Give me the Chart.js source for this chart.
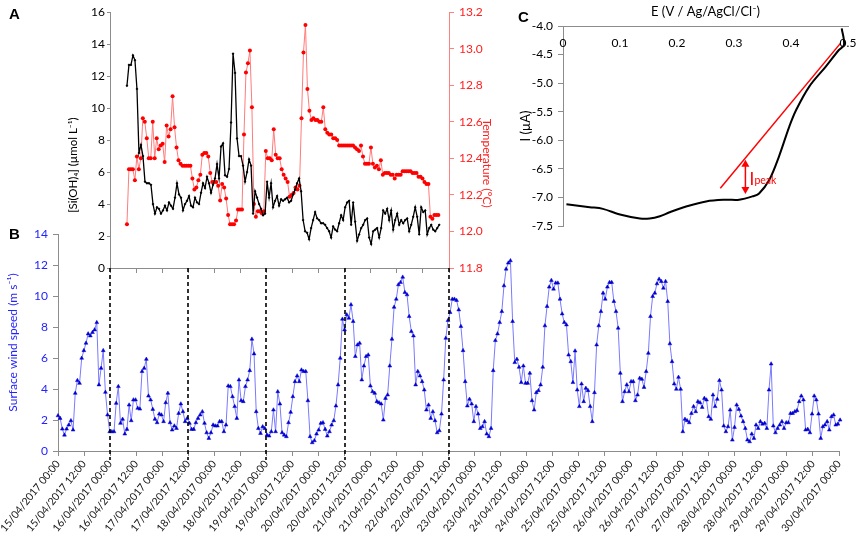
<!DOCTYPE html>
<html>
<head>
<meta charset="utf-8">
<script src="https://cdn.jsdelivr.net/npm/chart.js@4.4.0/dist/chart.umd.min.js"></script>
<style>
  body { margin: 0; background: #fff; }
  #wrap { position: relative; width: 856px; height: 543px; overflow: hidden; }
  canvas { position: absolute; }
  .tag { position: absolute; font: bold 15px "Liberation Sans", Arial, sans-serif; color: #000; }
</style>
</head>
<body>
<div id="wrap">
  <canvas id="windChart" width="856" height="543" style="left:0;top:0"></canvas>
  <canvas id="siChart" width="520" height="543" style="left:0;top:0"></canvas>
  <canvas id="cvChart" width="346" height="240" style="left:510px;top:0"></canvas>
  <div class="tag" style="left:9px;top:5px">A</div>
  <div class="tag" style="left:9px;top:225px">B</div>
  <div class="tag" style="left:518px;top:8px">C</div>
</div>
<script>
// ---- panel B: surface wind speed, hourly from 15/04/2017 00:00 ----
const windValues = [
  2.28,2.11,1.42,1.03,1.42,1.68,1.96,1.36,3.73,4.55,
  4.37,5.99,6.48,6.96,7.56,7.43,7.65,7.82,8.29,4.27,
  5.34,6.48,3.79,2.33,1.25,1.25,1.25,3.08,4.16,1.79,
  2.05,1.10,1.40,2.97,1.96,3.30,3.30,2.76,2.71,5.13,
  5.34,5.92,3.55,3.30,2.69,2.05,1.83,2.39,2.33,1.90,
  3.12,3.73,1.83,1.36,1.62,1.46,2.43,3.04,2.54,1.90,
  2.11,1.79,1.40,1.40,1.83,2.11,2.33,2.54,1.79,1.18,
  0.82,1.18,1.68,1.62,1.62,1.90,1.90,1.25,1.68,4.20,
  4.16,3.51,2.87,2.11,4.59,3.25,3.19,4.16,4.59,5.19,
  7.22,6.27,2.54,1.46,1.14,1.57,1.46,1.03,0.97,1.25,
  2.65,1.25,3.83,3.04,1.18,1.03,0.93,1.83,2.50,3.51,
  4.48,4.85,4.48,5.23,5.13,5.13,3.25,0.93,0.54,0.67,
  1.10,1.36,1.79,1.83,1.40,0.97,1.25,1.68,1.96,2.91,
  4.27,5.99,8.51,7.82,8.79,8.57,9.44,8.36,6.10,6.85,
  6.96,4.59,5.49,6.10,6.20,4.20,3.83,3.73,3.19,3.12,
  3.04,2.00,3.40,3.62,5.49,7.22,9.28,9.80,10.73,10.88,
  11.22,10.23,10.08,8.68,7.71,7.43,4.27,5.13,4.85,4.48,
  3.94,2.65,2.97,2.11,2.54,1.96,1.18,1.31,2.39,4.59,
  7.28,
  8.42,8.94,9.80,9.80,9.72,9.11,8.04,6.48,4.48,2.91,
  3.34,3.04,1.90,2.87,2.39,1.46,1.57,1.90,1.10,0.93,
  1.46,5.19,7.13,7.56,8.29,9.00,10.66,11.74,12.13,12.28,
  8.36,5.71,5.92,5.41,4.42,5.49,4.37,4.37,5.02,3.25,
  2.65,3.77,3.90,4.27,5.41,8.08,9.33,10.58,11.01,10.45,
  10.84,10.84,9.80,8.85,8.29,8.14,6.20,5.77,4.42,6.46,
  3.94,2.87,4.33,3.19,4.05,3.90,2.87,1.90,3.77,6.85,
  8.08,9.00,10.19,9.80,10.58,10.88,10.88,9.65,9.00,7.93,
  5.02,3.19,3.83,4.27,3.83,4.48,4.48,3.25,3.62,4.70,
  4.63,4.11,5.13,6.31,8.68,9.97,10.19,10.79,11.09,10.94,
  10.51,10.94,9.65,6.92,5.77,4.33,3.99,4.76,3.99,1.25,
  2.05,1.96,1.83,2.43,2.87,2.54,3.19,3.12,2.82,3.40,
  3.30,2.22,2.05,3.62,2.87,3.34,4.55,3.94,1.62,1.25,
  1.57,2.65,0.71,1.53,2.97,2.69,2.26,1.90,1.46,0.71,
  0.60,1.10,0.82,1.68,1.46,1.90,1.74,1.79,1.46,3.94,
  5.62,1.62,1.18,1.46,1.68,1.90,1.46,1.83,1.83,2.43,
  2.43,2.54,2.61,3.19,3.55,3.30,1.36,1.40,1.18,2.39,
  3.55,3.30,2.39,0.82,1.57,1.68,1.90,1.36,2.22,2.33,
  1.68,1.74,2.00
];
const windStartHour = 0;
const windEndHour = 360.5;
const windTickLabels = [
  '15/04/2017 00:00','15/04/2017 12:00','16/04/2017 00:00','16/04/2017 12:00',
  '17/04/2017 00:00','17/04/2017 12:00','18/04/2017 00:00','18/04/2017 12:00',
  '19/04/2017 00:00','19/04/2017 12:00','20/04/2017 00:00','20/04/2017 12:00',
  '21/04/2017 00:00','21/04/2017 12:00','22/04/2017 00:00','22/04/2017 12:00',
  '23/04/2017 00:00','23/04/2017 12:00','24/04/2017 00:00','24/04/2017 12:00',
  '25/04/2017 00:00','25/04/2017 12:00','26/04/2017 00:00','26/04/2017 12:00',
  '27/04/2017 00:00','27/04/2017 12:00','28/04/2017 00:00','28/04/2017 12:00',
  '29/04/2017 00:00','29/04/2017 12:00','30/04/2017 00:00'
];

// ---- panel A: silicate (black) and temperature (red) ----
const siValues = [
  11.4,12.7,12.7,13.3,13.0,11.2,7.2,7.7,7.0,5.4,
  5.3,5.3,5.2,4.0,3.4,3.8,3.7,3.4,3.6,3.9,
  3.6,4.1,3.9,3.7,4.4,5.3,4.6,4.4,3.6,4.0,
  4.2,4.5,3.9,3.8,4.4,4.1,4.0,4.7,5.3,5.0,
  5.7,5.3,4.7,5.2,5.6,6.5,5.6,7.6,7.8,5.8,
  5.7,6.2,9.1,13.4,12.2,8.1,7.0,7.0,6.4,5.4,
  6.0,6.8,6.4,3.4,4.8,4.4,4.0,3.7,3.3,3.4,
  5.4,4.4,5.3,3.8,4.2,4.5,3.9,4.3,4.2,4.3,
  4.4,4.1,4.2,4.6,4.9,5.3,5.6,4.8,3.0,2.3,
  2.2,1.8,2.5,3.0,3.5,3.1,3.0,2.8,2.8,2.7,
  2.5,2.3,1.9,2.6,2.4,2.3,2.8,3.3,3.0,3.8,
  4.1,4.2,2.7,4.1,2.9,1.7,2.1,2.5,2.7,3.0,
  3.1,1.9,1.5,2.3,2.4,2.5,1.9,2.5,3.6,3.4,
  3.7,3.0,3.6,2.4,3.0,3.4,2.7,3.0,2.8,3.0,
  3.1,2.3,2.7,3.2,3.8,3.2,2.1,3.8,3.5,3.6,
  2.1,2.5,2.7,2.4,2.3,2.5,2.7
];
const siStartHour = 31.8;
const siEndHour = 175.5;

const tempValues = [
  12.04,12.34,12.34,12.34,12.28,12.41,12.34,12.40,12.62,12.60,
  12.51,12.40,12.40,12.60,12.40,12.51,12.45,12.47,12.48,12.38,
  12.58,12.52,12.56,12.74,12.57,12.46,12.39,12.37,12.36,12.36,
  12.36,12.36,12.36,12.29,12.23,12.24,12.28,12.31,12.42,12.43,
  12.43,12.41,12.32,12.27,12.27,12.27,12.25,12.17,12.26,12.24,
  12.18,12.09,12.04,12.04,12.04,12.06,12.12,12.12,12.12,12.53,
  12.87,12.92,12.99,12.68,12.15,12.08,12.11,12.11,12.10,12.11,
  12.44,12.40,12.40,12.39,12.56,12.42,12.40,12.40,12.34,12.31,
  12.29,12.27,12.19,12.20,12.21,12.24,12.23,12.25,12.62,12.98,
  13.13,12.78,12.66,12.61,12.62,12.61,12.61,12.60,12.60,12.68,
  12.56,12.54,12.53,12.53,12.51,12.51,12.50,12.47,12.47,12.47,
  12.47,12.47,12.47,12.47,12.47,12.46,12.45,12.44,12.47,12.41,
  12.37,12.37,12.37,12.46,12.37,12.35,12.36,12.34,12.39,12.31,
  12.32,12.32,12.32,12.31,12.31,12.29,12.31,12.31,12.31,12.33,
  12.33,12.33,12.33,12.33,12.32,12.32,12.32,12.30,12.30,12.29,
  12.27,12.26,12.26,12.08,12.07,12.09,12.09,12.09
];
const tempStartHour = 31.8;
const tempEndHour = 175.1;

// hours where the dashed guide lines drop from panel A into panel B
const dashHours = [24, 60, 96, 132, 180];

// ---- panel C: voltammogram ----
const cvE = [0.006,0.047,0.07,0.1,0.135,0.152,0.17,0.187,0.216,0.251,0.286,0.309,0.333,0.344,0.362,0.379,0.397,0.409,0.432,0.461,0.484,0.493,0.489];
const cvI = [-7.12,-7.17,-7.20,-7.30,-7.37,-7.37,-7.33,-7.26,-7.16,-7.07,-7.04,-7.04,-6.98,-6.93,-6.69,-6.28,-5.76,-5.47,-5.06,-4.71,-4.42,-4.33,-4.04];
const cvTickValues = [0, 0.1, 0.2, 0.3, 0.4, 0.5];
const cvTickLabels = ['0', '0.1', '0.2', '0.3', '0.4', '0.5'];
const tangentE = [0.276, 0.487];
const tangentI = [-6.84, -4.30];
const peakE = 0.32;
const peakI = [-6.34, -6.94];

function spread(values, start, end) {
  const step = (end - start) / (values.length - 1);
  return values.map((v, i) => ({ x: start + i * step, y: v }));
}

Chart.defaults.font.family = 'Lato, "Open Sans", sans-serif';
Chart.defaults.font.size = 12;
Chart.defaults.animation = false;
Chart.defaults.plugins.legend.display = false;
Chart.defaults.plugins.tooltip.enabled = false;

const axisGrey = '#8c8c8c';
const windBlue = '#2323ff';

// ---------------- panel B ----------------
new Chart(document.getElementById('windChart').getContext('2d'), {
    type: 'line',
    data: {
        datasets: [{
            data: spread(windValues, windStartHour, windEndHour),
            borderColor: '#7a7aff',
            borderWidth: 1,
            pointStyle: 'triangle',
            pointRadius: 2.2,
            pointBackgroundColor: '#0000d0',
            pointBorderColor: '#0000d0',
            pointBorderWidth: 0.5,
            tension: 0,
            clip: false
        }]
    },
    options: {
        responsive: false,
        layout: { padding: { left: 2, right: 17, top: 234, bottom: 0 } },
        scales: {
            x: {
                type: 'linear',
                min: 0,
                max: 360,
                afterFit: (s) => { s.height = 92; s.paddingLeft = 0; s.paddingRight = 0; },
                afterBuildTicks: (s) => { s.ticks = windTickLabels.map((t, i) => ({ value: i * 12 })); },
                ticks: {
                    autoSkip: false,
                    minRotation: 51,
                    maxRotation: 51,
                    color: '#111',
                    font: { size: 10.5 },
                    padding: 2,
                    callback: (v, i) => windTickLabels[i]
                },
                grid: { drawOnChartArea: false, color: axisGrey, tickLength: 5 },
                border: { color: axisGrey }
            },
            y: {
                min: 0,
                max: 14,
                afterFit: (s) => { s.width = 56; },
                ticks: { stepSize: 2, color: windBlue, padding: 5 },
                grid: { drawOnChartArea: false, color: axisGrey, tickLength: 5 },
                border: { color: axisGrey },
                title: { display: true, text: 'Surface wind speed (m s\u207B\u00B9)', color: windBlue, font: { size: 12 } }
            }
        }
    }
});

// ---------------- panel A ----------------
const dashedGuides = {
    id: 'dashedGuides',
    afterDraw(chart) {
        const { ctx, chartArea, scales: { x } } = chart;
        ctx.save();
        ctx.strokeStyle = '#000';
        ctx.lineWidth = 1.6;
        ctx.setLineDash([4, 3]);
        dashHours.forEach(h => {
            const px = Math.round(x.getPixelForValue(h));
            ctx.beginPath();
            ctx.moveTo(px, chartArea.bottom);
            ctx.lineTo(px, chartArea.bottom + 192);
            ctx.stroke();
        });
        ctx.restore();
    }
};

new Chart(document.getElementById('siChart').getContext('2d'), {
    type: 'line',
    data: {
        datasets: [
            {
                data: spread(siValues, siStartHour, siEndHour),
                yAxisID: 'y',
                borderColor: '#000',
                borderWidth: 1.3,
                pointStyle: 'rectRot',
                pointRadius: 1.4,
                pointBackgroundColor: '#000',
                pointBorderWidth: 0,
                tension: 0
            },
            {
                data: spread(tempValues, tempStartHour, tempEndHour),
                yAxisID: 'y2',
                borderColor: '#ff7b7b',
                borderWidth: 1,
                pointStyle: 'circle',
                pointRadius: 2,
                pointBackgroundColor: '#ff0000',
                pointBorderWidth: 0,
                tension: 0
            }
        ]
    },
    options: {
        responsive: false,
        layout: { padding: { left: 62, right: 22, top: 7, bottom: 270 } },
        scales: {
            x: {
                type: 'linear',
                min: 24,
                max: 180,
                afterFit: (s) => { s.height = 5; s.paddingLeft = 0; s.paddingRight = 0; },
                ticks: { stepSize: 12, display: false },
                grid: { drawOnChartArea: false, color: axisGrey, tickLength: 5 },
                border: { color: axisGrey }
            },
            y: {
                position: 'left',
                min: 0,
                max: 16,
                afterFit: (s) => { s.width = 48; },
                ticks: { stepSize: 2, color: '#000', padding: 2 },
                grid: { drawOnChartArea: false, color: axisGrey, tickLength: 3 },
                border: { color: axisGrey },
                // trailing spaces nudge the title down, as in the original figure
                title: { display: true, text: '[Si(OH)\u2084] (\u00B5mol L\u207B\u00B9)                 ', color: '#000', font: { size: 11.5 } }
            },
            y2: {
                position: 'right',
                min: 11.8,
                max: 13.2,
                afterFit: (s) => { s.width = 49; },
                ticks: { stepSize: 0.2, color: '#ff2020', padding: 5, callback: (v) => v.toFixed(1) },
                grid: { drawOnChartArea: false, color: '#ff8080', tickLength: 5 },
                border: { color: '#ff8080' },
                title: { display: true, text: '               Temperature (\u00B0C)', color: '#ff2020', font: { size: 12 } }
            }
        }
    },
    plugins: [dashedGuides]
});

// ---------------- panel C ----------------
const peakArrow = {
    id: 'peakArrow',
    afterDatasetsDraw(chart) {
        const { ctx, scales: { x, y } } = chart;
        const px = x.getPixelForValue(peakE);
        const yTop = y.getPixelForValue(peakI[0]);
        const yBot = y.getPixelForValue(peakI[1]);
        ctx.save();
        ctx.strokeStyle = '#ff0000';
        ctx.fillStyle = '#ff0000';
        ctx.lineWidth = 1.5;
        ctx.beginPath();
        ctx.moveTo(px, yTop + 5);
        ctx.lineTo(px, yBot - 5);
        ctx.stroke();
        ctx.beginPath();
        ctx.moveTo(px, yTop); ctx.lineTo(px - 4, yTop + 7); ctx.lineTo(px + 4, yTop + 7);
        ctx.closePath(); ctx.fill();
        ctx.beginPath();
        ctx.moveTo(px, yBot); ctx.lineTo(px - 4, yBot - 7); ctx.lineTo(px + 4, yBot - 7);
        ctx.closePath(); ctx.fill();
        ctx.textBaseline = 'alphabetic';
        ctx.font = '17px Lato, sans-serif';
        ctx.fillText('I', px + 4, yBot - 9);
        ctx.font = '10.5px Lato, sans-serif';
        ctx.fillText('peak', px + 9, yBot - 10);
        ctx.restore();
    }
};

// x tick labels of panel C sit just under the top axis line
const cvTopLabels = {
    id: 'cvTopLabels',
    afterDraw(chart) {
        const { ctx, chartArea, scales: { x } } = chart;
        ctx.save();
        ctx.fillStyle = '#000';
        ctx.font = '12px Lato, sans-serif';
        ctx.textAlign = 'center';
        ctx.textBaseline = 'middle';
        cvTickValues.forEach((v, i) => {
            ctx.fillText(cvTickLabels[i], x.getPixelForValue(v), chartArea.top + 17);
        });
        ctx.restore();
    }
};

new Chart(document.getElementById('cvChart').getContext('2d'), {
    type: 'scatter',
    data: {
        datasets: [
            {
                data: cvE.map((e, i) => ({ x: e, y: cvI[i] })),
                showLine: true,
                borderColor: '#000',
                borderWidth: 2,
                pointRadius: 0,
                tension: 0.35
            },
            {
                data: tangentE.map((e, i) => ({ x: e, y: tangentI[i] })),
                showLine: true,
                borderColor: '#ff0000',
                borderWidth: 1.5,
                pointRadius: 0
            }
        ]
    },
    options: {
        responsive: false,
        layout: { padding: { left: 4, right: 8, top: 0, bottom: 14 } },
        scales: {
            x: {
                type: 'linear',
                position: 'top',
                min: 0,
                max: 0.5,
                afterFit: (s) => { s.height = 26; s.paddingLeft = 0; s.paddingRight = 0; },
                ticks: { stepSize: 0.1, display: false },
                grid: { drawOnChartArea: false, drawTicks: false },
                border: { color: axisGrey },
                title: { display: true, text: 'E (V / Ag/AgCl/Cl\u207B)', color: '#000', font: { size: 13 } }
            },
            y: {
                min: -7.5,
                max: -4.0,
                afterFit: (s) => { s.width = 49; },
                ticks: { stepSize: 0.5, color: '#000', padding: 5, callback: (v) => v.toFixed(1) },
                grid: { drawOnChartArea: false, color: axisGrey, tickLength: 5 },
                border: { color: axisGrey },
                title: { display: true, text: 'I (\u00B5A)', color: '#000', font: { size: 13 } }
            }
        }
    },
    plugins: [peakArrow, cvTopLabels]
});
</script>
</body>
</html>
